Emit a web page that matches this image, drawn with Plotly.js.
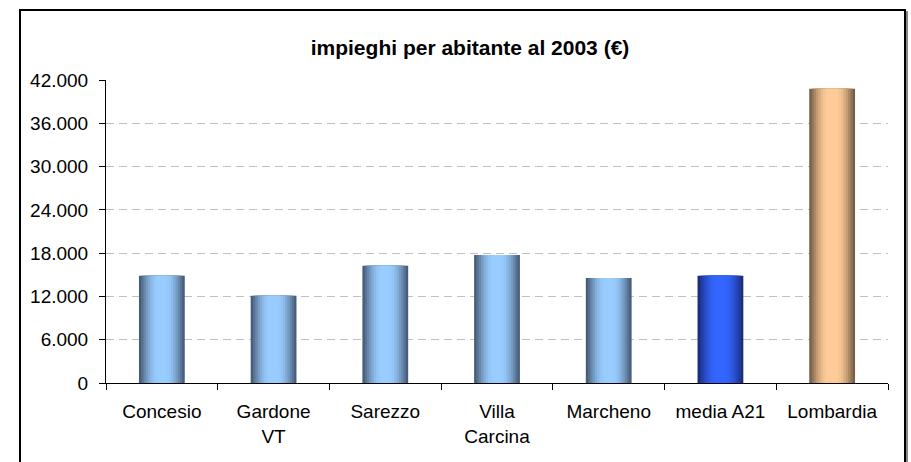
<!DOCTYPE html>
<html>
<head>
<meta charset="utf-8">
<script src="https://cdn.plot.ly/plotly-3.0.1.min.js"></script>
<style>
  html, body { margin: 0; padding: 0; background: #ffffff; }
  #wrap { position: relative; width: 911px; height: 462px; overflow: hidden; }
  #chart { position: absolute; left: 0; top: 0; width: 911px; height: 462px; }
  #frame { position: absolute; left: 19px; top: 9px; width: 883px; height: 470px;
           border: 2px solid #000; box-shadow: 2px 2px 0 #888; pointer-events: none; }
</style>
</head>
<body>
<div id="wrap">
  <div id="chart"></div>
  <div id="frame"></div>
</div>
<script>
// ---- data ----
const categories = ["Concesio", "Gardone<br>VT", "Sarezzo", "Villa<br>Carcina", "Marcheno", "media A21", "Lombardia"];
const values = [14850, 12100, 16250, 17750, 14550, 14850, 40800];
const titleText = "impieghi per abitante al 2003 (€)";
const yTickVals = [0, 6000, 12000, 18000, 24000, 30000, 36000, 42000];
const yTickText = ["0", "6.000", "12.000", "18.000", "24.000", "30.000", "36.000", "42.000"];

// ---- styling (edge -> center colours per bar, for a cylinder shading) ----
const steel = { edge: [72, 94, 120], center: [153, 204, 255] };
const royal = { edge: [26, 46, 128], center: [51, 102, 255] };
const sand  = { edge: [120, 95, 70], center: [255, 204, 153] };
const palette = [steel, steel, steel, steel, steel, royal, sand];

function mix(a, b, t) {
  return 'rgb(' + a.map((v, i) => Math.round(v + (b[i] - v) * t)).join(',') + ')';
}

const fullWidth = 0.41;
const layers = 9;
const traces = [];
for (let i = 0; i < layers; i++) {
  const t = i / (layers - 1);
  const w = fullWidth * (1 - 0.8 * t);
  const ease = Math.sin(t * Math.PI / 2);
  traces.push({
    type: 'bar',
    x: categories,
    y: values,
    width: categories.map(() => w),
    marker: { color: palette.map(p => mix(p.edge, p.center, ease)), line: { width: 0 } },
    hoverinfo: i === 0 ? 'x+y' : 'skip',
    showlegend: false
  });
}

const font = "'Liberation Sans', Arial, sans-serif";

const layout = {
  width: 911, height: 462,
  margin: { l: 106, r: 23, t: 80, b: 79 },
  paper_bgcolor: '#ffffff',
  plot_bgcolor: '#ffffff',
  barmode: 'overlay',
  separators: ',.',
  font: { family: font, size: 19, color: '#000' },
  title: {
    text: '<b>' + titleText + '</b>',
    font: { family: font, size: 21, color: '#000' },
    xref: 'paper', x: 0.4655, xanchor: 'center',
    yref: 'container', y: 1 - 48 / 462, yanchor: 'middle'
  },
  xaxis: {
    type: 'category',
    tickson: 'boundaries',
    ticks: 'outside', ticklen: 6, tickcolor: '#000', tickwidth: 1,
    showline: true, linecolor: '#000', linewidth: 1,
    showgrid: false,
    ticklabelstandoff: 11,
    tickfont: { family: font, size: 19, color: '#000' },
    fixedrange: true
  },
  yaxis: {
    range: [0, 42000],
    tickvals: yTickVals,
    ticktext: yTickText,
    ticks: 'outside', ticklen: 6, tickcolor: '#000', tickwidth: 1,
    showline: true, linecolor: '#000', linewidth: 1,
    showgrid: true, gridcolor: '#c0c0c0', gridwidth: 1, griddash: '8px,5px',
    zeroline: false,
    ticklabelstandoff: 7,
    tickfont: { family: font, size: 19, color: '#000' },
    fixedrange: true
  }
};

Plotly.newPlot('chart', traces, layout, { displayModeBar: false, staticPlot: true });
</script>
</body>
</html>
